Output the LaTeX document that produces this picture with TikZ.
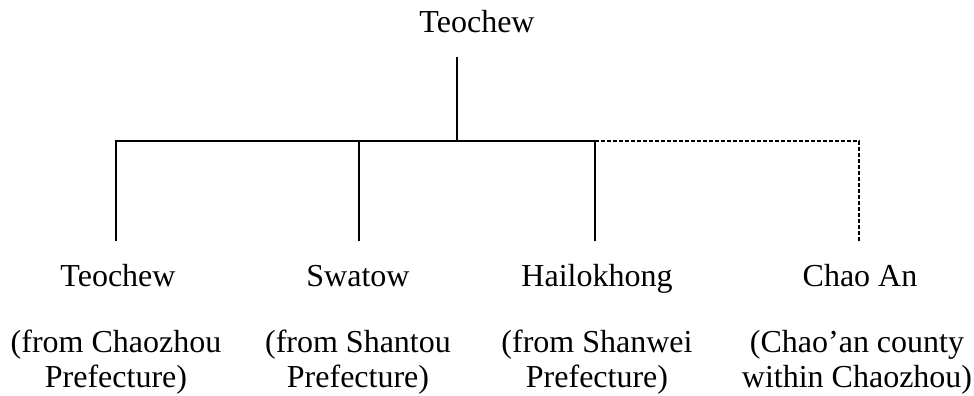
\documentclass[tikz,border=0pt]{standalone}
\usepackage{fontspec}
\setmainfont{Liberation Serif}
\begin{document}
\begin{tikzpicture}[x=1pt,y=-1pt,
  word/.style={font=\fontsize{32}{35}\selectfont, inner sep=0pt, align=center, anchor=base},
  branch/.style={line width=2pt, line join=miter},
  dashbranch/.style={line width=2pt, dash pattern=on 4pt off 2pt}]
\useasboundingbox (0,0) rectangle (974,396);

% root of the tree
\node[word] (root) at (477,33) {Teochew};

% junction points of the bracket
\coordinate (stem) at (457,57);
\coordinate (hub)  at (457,141);
\coordinate (jA) at (116,141);
\coordinate (jB) at (359,141);
\coordinate (jC) at (595,141);
\coordinate (jD) at (859,141);
\coordinate (dA) at (116,241);
\coordinate (dB) at (359,241);
\coordinate (dC) at (595,241);
\coordinate (dD) at (859,241);

% branch names
\node[word] (nA) at (118,286) {Teochew};
\node[word] (nB) at (358,286) {Swatow};
\node[word] (nC) at (597,286) {Hailokhong};
\node[word] (nD) at (860,286) {Chao An};

% origin notes (base anchor sits on the last line)
\node[word] (sA) at (116,387) {(from Chaozhou\\Prefecture)};
\node[word] (sB) at (358,387) {(from Shantou\\Prefecture)};
\node[word] (sC) at (597,387) {(from Shanwei\\Prefecture)};
\node[word] (sD) at (857,387) {(Chao’an county\\within Chaozhou)};

% connectors
\draw[branch] (stem) -- (hub);
\draw[branch] (dA) -- (jA) -- (jC) -- (dC);
\draw[branch] (jB) -- (dB);
\draw[dashbranch] (jC) -- (jD) -- (dD);
\end{tikzpicture}
\end{document}
